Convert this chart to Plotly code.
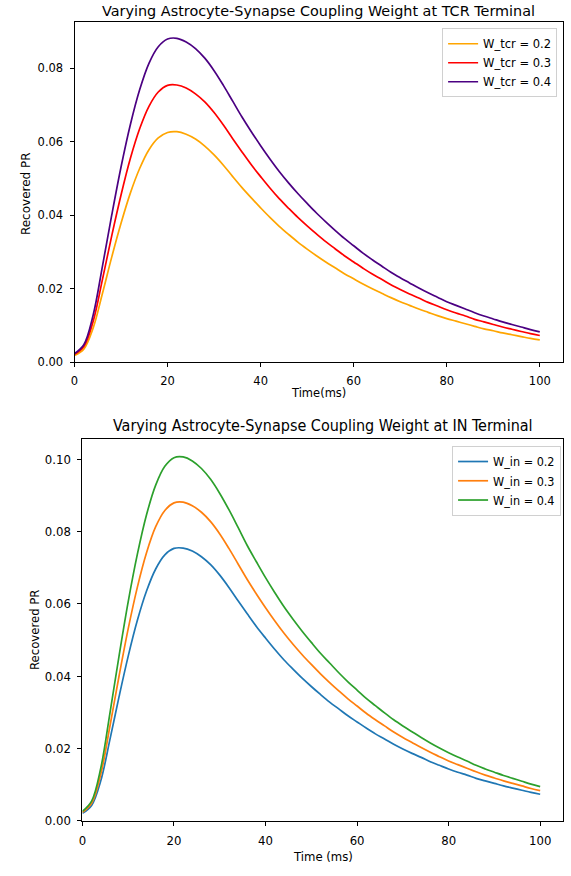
import plotly.graph_objects as go

# ---------------- data ----------------
time_ms = list(range(0, 101, 2))

# Top panel: TCR terminal
w_tcr_02 = [0.0019, 0.0036, 0.0093, 0.0187, 0.0286, 0.0378, 0.0460, 0.0527, 0.0578, 0.0610,
            0.0625, 0.0627, 0.0620, 0.0607, 0.0588, 0.0564, 0.0536, 0.0505, 0.0475, 0.0447,
            0.0420, 0.0394, 0.0370, 0.0348, 0.0327, 0.0308, 0.0290, 0.0273, 0.0257, 0.0241,
            0.0227, 0.0213, 0.0200, 0.0188, 0.0176, 0.0165, 0.0155, 0.0145, 0.0136, 0.0127,
            0.0119, 0.0112, 0.0105, 0.0098, 0.0091, 0.0086, 0.0080, 0.0075, 0.0070, 0.0065,
            0.0061]
w_tcr_03 = [0.0022, 0.0043, 0.0111, 0.0225, 0.0344, 0.0455, 0.0554, 0.0635, 0.0696, 0.0735,
            0.0753, 0.0754, 0.0746, 0.0730, 0.0708, 0.0679, 0.0645, 0.0608, 0.0572, 0.0537,
            0.0505, 0.0474, 0.0445, 0.0419, 0.0394, 0.0371, 0.0349, 0.0328, 0.0309, 0.0290,
            0.0273, 0.0256, 0.0240, 0.0226, 0.0211, 0.0198, 0.0186, 0.0175, 0.0163, 0.0153,
            0.0143, 0.0134, 0.0126, 0.0117, 0.0110, 0.0103, 0.0096, 0.0090, 0.0084, 0.0078,
            0.0073]
w_tcr_04 = [0.0024, 0.0048, 0.0128, 0.0261, 0.0400, 0.0531, 0.0646, 0.0741, 0.0813, 0.0858,
            0.0879, 0.0881, 0.0871, 0.0853, 0.0827, 0.0793, 0.0753, 0.0710, 0.0667, 0.0627,
            0.0589, 0.0553, 0.0519, 0.0488, 0.0459, 0.0432, 0.0406, 0.0382, 0.0359, 0.0337,
            0.0317, 0.0297, 0.0279, 0.0262, 0.0245, 0.0230, 0.0216, 0.0202, 0.0189, 0.0177,
            0.0165, 0.0155, 0.0145, 0.0135, 0.0126, 0.0118, 0.0110, 0.0103, 0.0096, 0.0089,
            0.0083]

# Bottom panel: IN terminal
w_in_02 = [0.0020, 0.0042, 0.0110, 0.0224, 0.0343, 0.0455, 0.0554, 0.0635, 0.0696, 0.0735,
           0.0753, 0.0754, 0.0746, 0.0730, 0.0708, 0.0679, 0.0645, 0.0608, 0.0572, 0.0537,
           0.0505, 0.0474, 0.0445, 0.0419, 0.0394, 0.0371, 0.0349, 0.0328, 0.0309, 0.0290,
           0.0273, 0.0256, 0.0240, 0.0226, 0.0211, 0.0198, 0.0186, 0.0175, 0.0163, 0.0153,
           0.0143, 0.0134, 0.0126, 0.0117, 0.0110, 0.0103, 0.0096, 0.0090, 0.0084, 0.0078,
           0.0073]
w_in_03 = [0.0023, 0.0048, 0.0128, 0.0261, 0.0400, 0.0531, 0.0646, 0.0741, 0.0813, 0.0858,
           0.0879, 0.0881, 0.0871, 0.0853, 0.0827, 0.0793, 0.0753, 0.0710, 0.0667, 0.0627,
           0.0589, 0.0553, 0.0519, 0.0488, 0.0459, 0.0432, 0.0406, 0.0382, 0.0359, 0.0337,
           0.0317, 0.0297, 0.0279, 0.0262, 0.0245, 0.0230, 0.0216, 0.0202, 0.0189, 0.0177,
           0.0165, 0.0155, 0.0145, 0.0135, 0.0126, 0.0118, 0.0110, 0.0103, 0.0096, 0.0089,
           0.0083]
w_in_04 = [0.0026, 0.0054, 0.0145, 0.0297, 0.0456, 0.0606, 0.0737, 0.0846, 0.0928, 0.0980,
           0.1004, 0.1006, 0.0995, 0.0974, 0.0944, 0.0905, 0.0860, 0.0811, 0.0761, 0.0716,
           0.0672, 0.0631, 0.0592, 0.0557, 0.0524, 0.0493, 0.0463, 0.0436, 0.0409, 0.0384,
           0.0361, 0.0338, 0.0318, 0.0298, 0.0279, 0.0262, 0.0246, 0.0230, 0.0215, 0.0201,
           0.0188, 0.0176, 0.0165, 0.0153, 0.0143, 0.0134, 0.0125, 0.0117, 0.0109, 0.0101,
           0.0094]

top_names = ["W_tcr = 0.2", "W_tcr = 0.3", "W_tcr = 0.4"]
bottom_names = ["W_in = 0.2", "W_in = 0.3", "W_in = 0.4"]
top_colors = ["#FFA500", "#FF0000", "#4B0082"]
bottom_colors = ["#1f77b4", "#ff7f0e", "#2ca02c"]
x_ticks = [0, 20, 40, 60, 80, 100]
top_y_ticks = [0.00, 0.02, 0.04, 0.06, 0.08]
bottom_y_ticks = [0.00, 0.02, 0.04, 0.06, 0.08, 0.10]

# ---------------- figure ----------------
W, H = 571, 876
FONT_TOP = "DejaVu Sans"
FONT_BOT = "DejaVu Sans Condensed, DejaVu Sans"

def px_x(p):
    return p / W

def px_y(p):
    return 1 - p / H

fig = go.Figure()

for ys, name, col in zip([w_tcr_02, w_tcr_03, w_tcr_04], top_names, top_colors):
    fig.add_trace(go.Scatter(x=time_ms, y=ys, name=name, mode="lines",
                             line=dict(color=col, width=1.7, shape="spline", smoothing=1.0),
                             xaxis="x", yaxis="y", legend="legend"))
for ys, name, col in zip([w_in_02, w_in_03, w_in_04], bottom_names, bottom_colors):
    fig.add_trace(go.Scatter(x=time_ms, y=ys, name=name, mode="lines",
                             line=dict(color=col, width=1.7, shape="spline", smoothing=1.0),
                             xaxis="x2", yaxis="y2", legend="legend2"))

axis_common = dict(showline=True, mirror=True, linecolor="black", linewidth=1,
                   ticks="outside", ticklen=4, tickwidth=1, tickcolor="black",
                   showgrid=False, zeroline=False, ticklabelstandoff=4)

fig.update_layout(
    width=W, height=H,
    margin=dict(l=0, r=0, t=0, b=0),
    paper_bgcolor="white", plot_bgcolor="white",
    xaxis=dict(domain=[px_x(71), px_x(563)], range=[0, 105], anchor="y",
               tickvals=x_ticks, tickfont=dict(family=FONT_TOP, size=11.5, color="black"),
               **axis_common),
    yaxis=dict(domain=[px_y(365.7), px_y(22.3)], range=[0, 0.0925], anchor="x",
               tickvals=top_y_ticks, tickformat=".2f",
               tickfont=dict(family=FONT_TOP, size=11.5, color="black"),
               **axis_common),
    xaxis2=dict(domain=[px_x(79), px_x(563)], range=[0, 105], anchor="y2",
                tickvals=x_ticks, tickfont=dict(family=FONT_BOT, size=13, color="black"),
                **axis_common),
    yaxis2=dict(domain=[px_y(828.2), px_y(442.9)], range=[0, 0.1056], anchor="x2",
                tickvals=bottom_y_ticks, tickformat=".2f",
                tickfont=dict(family=FONT_BOT, size=13, color="black"),
                **axis_common),
    legend=dict(x=px_x(557), y=px_y(28.5), xanchor="right", yanchor="top",
                bgcolor="rgba(255,255,255,0.8)", bordercolor="#d0d0d0", borderwidth=1,
                font=dict(family=FONT_TOP, size=11.5, color="black"),
                itemwidth=30, tracegroupgap=0),
    legend2=dict(x=px_x(561), y=px_y(450), xanchor="right", yanchor="top",
                 bgcolor="rgba(255,255,255,0.8)", bordercolor="#d0d0d0", borderwidth=1,
                 font=dict(family=FONT_BOT, size=12.5, color="black"),
                 itemwidth=30, tracegroupgap=0),
    showlegend=True,
)

annos = [
    dict(text="Varying Astrocyte-Synapse Coupling Weight at TCR Terminal",
         x=px_x(317), y=px_y(11), font=dict(family=FONT_TOP, size=14.4, color="black")),
    dict(text="Time(ms)", x=px_x(317), y=px_y(397),
         font=dict(family=FONT_TOP, size=11.5, color="black")),
    dict(text="Recovered PR", x=px_x(22), y=px_y(195), textangle=-90,
         font=dict(family=FONT_TOP, size=12, color="black")),
    dict(text="Varying Astrocyte-Synapse Coupling Weight at IN Terminal",
         x=px_x(321), y=px_y(429), font=dict(family=FONT_BOT, size=16, color="black")),
    dict(text="Time (ms)", x=px_x(321), y=px_y(864),
         font=dict(family=FONT_BOT, size=13, color="black")),
    dict(text="Recovered PR", x=px_x(30), y=px_y(636), textangle=-90,
         font=dict(family=FONT_BOT, size=13, color="black")),
]
for a in annos:
    fig.add_annotation(xref="paper", yref="paper", xanchor="center", yanchor="middle",
                       showarrow=False, **a)

fig.write_html("out.html")
